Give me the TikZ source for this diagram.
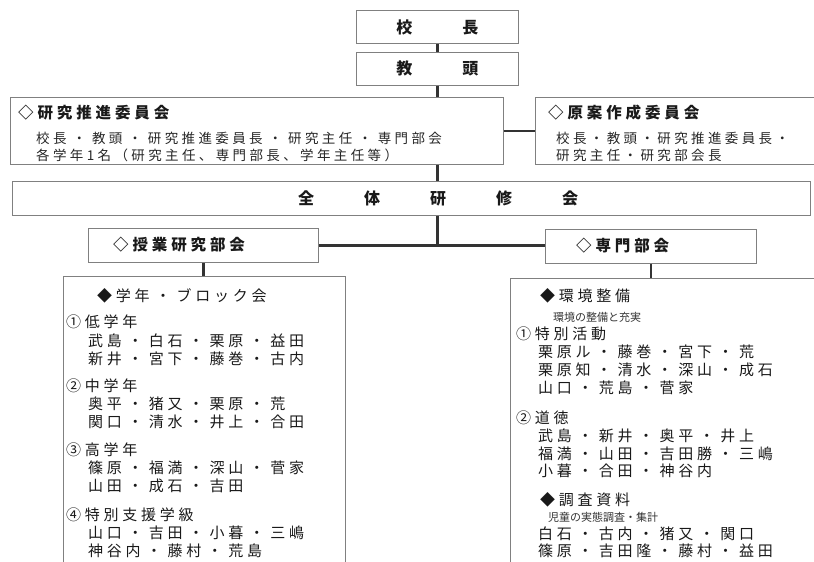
\documentclass[tikz,border=0pt]{standalone}
\usepackage{fontspec}
\usetikzlibrary{positioning}
\newfontfamily\jpwide[LetterSpace=25]{Noto Sans CJK JP}
\newfontfamily\jpplain{Noto Sans CJK JP}
\newcommand{\jpbody}{\jpwide\fontsize{15}{18}\selectfont}
\newcommand{\jphead}{\jpwide\bfseries\fontsize{15.5}{18}\selectfont}
\newcommand{\jpline}{\jpwide\fontsize{13.5}{16}\selectfont}
\newcommand{\jpsmall}{\jpplain\fontsize{11}{13}\selectfont}
\newcommand{\jptitle}{\jpplain\bfseries\fontsize{16}{18}\selectfont}
\newcommand{\nakaguro}{\hspace{6pt}・\hspace{6pt}}

\begin{document}
\begin{tikzpicture}[
    x=1pt, y=-1pt,
    nosep/.style={inner sep=0},
    box/.style={rectangle, draw=black!50, line width=0.9pt, nosep, anchor=north west},
    link/.style={draw=black!80, line width=2.6pt},
    txt/.style={nosep, anchor=west, text=black!90, font=\jpbody},
    head/.style={nosep, anchor=west, text=black!90, font=\jphead},
    line/.style={nosep, anchor=west, text=black!85, font=\jpline},
    note/.style={nosep, anchor=west, text=black!80, font=\jpsmall}]
\useasboundingbox (0,0) rectangle (814,562);

% boxes
\node[box, minimum width=162pt, minimum height=33pt] (kocho) at (356,10) {};
\node[box, minimum width=162pt, minimum height=33pt] (kyoto) at (356,52) {};
\node[box, minimum width=493pt, minimum height=67pt] (suishin) at (10,97) {};
\node[box, minimum width=290pt, minimum height=67pt] (genan) at (535,97) {};
\node[box, minimum width=798pt, minimum height=34pt] (zentai) at (12,181) {};
\node[box, minimum width=230pt, minimum height=34pt] (jugyo) at (88,228) {};
\node[box, minimum width=211pt, minimum height=34pt] (senmon) at (545,229) {};
\node[box, minimum width=282pt, minimum height=300pt] (gakunen) at (63,276) {};
\node[box, minimum width=320pt, minimum height=300pt] (bukai) at (510,278) {};

% connectors
\path[link] (kocho.south) -- (kyoto.north);
\path[link] (kyoto.south) -- (kyoto.south |- suishin.north);
\path[link] (kyoto.south |- suishin.south) -- (kyoto.south |- zentai.north);
\path[link] (suishin.east) -- (suishin.east -| genan.west);
\path[link] (kyoto.south |- zentai.south) -- (kyoto.south |- jugyo.east);
\path[link] (jugyo.east) -- (jugyo.east -| senmon.west);
\path[link] (jugyo.south) -- (jugyo.south |- gakunen.north);
\path[link] (senmon.south) -- (senmon.south |- bukai.north);

% titles
\node[nosep, text=black!90, font=\jptitle] (kocholabel) at (kocho.center) {校\hspace{50pt}長};
\node[nosep, text=black!90, font=\jptitle] (kyotolabel) at (kyoto.center) {教\hspace{50pt}頭};
\node[head] (suishinhead) at (18,113) {◇研究推進委員会};
\node[line] (suishin1) at (36,138) {校長\nakaguro 教頭\nakaguro 研究推進委員長\nakaguro 研究主任\nakaguro 専門部会};
\node[line] (suishin2) at (36,155) {各学年1名（研究主任、専門部長、学年主任等）};
\node[head] (genanhead) at (548,113) {◇原案作成委員会};
\node[line] (genan1) at (556,138) {校長・教頭・研究推進委員長・};
\node[line] (genan2) at (556,155) {研究主任・研究部会長};
\node[nosep, text=black!90, font=\jptitle] (zentailabel) at (438,198) {全\hspace{50pt}体\hspace{50pt}研\hspace{50pt}修\hspace{50pt}会};
\node[head] (jugyolabel) at (113,245) {◇授業研究部会};
\node[head] (senmonlabel) at (576,246) {◇専門部会};

% left group
\node[txt] (block) at (97,296) {◆学年\nakaguro ブロック会};
\node[txt] (low) at (66,322) {①低学年};
\node[txt] (low1) at (88,341) {武島\nakaguro 白石\nakaguro 栗原\nakaguro 益田};
\node[txt] (low2) at (88,359) {新井\nakaguro 宮下\nakaguro 藤巻\nakaguro 古内};
\node[txt] (mid) at (66,386) {②中学年};
\node[txt] (mid1) at (88,404) {奥平\nakaguro 猪又\nakaguro 栗原\nakaguro 荒};
\node[txt] (mid2) at (88,422) {関口\nakaguro 清水\nakaguro 井上\nakaguro 合田};
\node[txt] (high) at (66,450) {③高学年};
\node[txt] (high1) at (88,468) {篠原\nakaguro 福満\nakaguro 深山\nakaguro 菅家};
\node[txt] (high2) at (88,486) {山田\nakaguro 成石\nakaguro 吉田};
\node[txt] (shien) at (66,515) {④特別支援学級};
\node[txt] (shien1) at (88,533) {山口\nakaguro 吉田\nakaguro 小暮\nakaguro 三嶋};
\node[txt] (shien2) at (88,551) {神谷内\nakaguro 藤村\nakaguro 荒島};

% right group
\node[txt] (kankyo) at (540,296) {◆環境整備};
\node[note] (kankyonote) at (553,317) {環境の整備と充実};
\node[txt] (tokkatsu) at (516,334) {①特別活動};
\node[txt] (tokkatsu1) at (538,352) {栗原ル\nakaguro 藤巻\nakaguro 宮下\nakaguro 荒};
\node[txt] (tokkatsu2) at (538,370) {栗原知\nakaguro 清水\nakaguro 深山\nakaguro 成石};
\node[txt] (tokkatsu3) at (538,388) {山口\nakaguro 荒島\nakaguro 菅家};
\node[txt] (dotoku) at (516,418) {②道徳};
\node[txt] (dotoku1) at (538,436) {武島\nakaguro 新井\nakaguro 奥平\nakaguro 井上};
\node[txt] (dotoku2) at (538,454) {福満\nakaguro 山田\nakaguro 吉田勝\nakaguro 三嶋};
\node[txt] (dotoku3) at (538,471) {小暮\nakaguro 合田\nakaguro 神谷内};
\node[txt] (chosa) at (540,500) {◆調査資料};
\node[note] (chosanote) at (548,517) {児童の実態調査・集計};
\node[txt] (chosa1) at (538,534) {白石\nakaguro 古内\nakaguro 猪又\nakaguro 関口};
\node[txt] (chosa2) at (538,551) {篠原\nakaguro 吉田隆\nakaguro 藤村\nakaguro 益田};

\end{tikzpicture}
\end{document}
